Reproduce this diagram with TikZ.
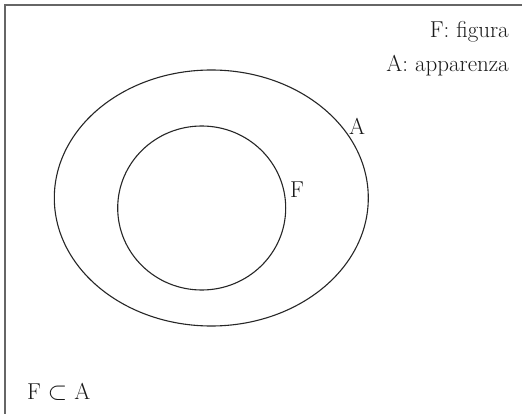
\documentclass[tikz,border=0pt]{standalone}
\usetikzlibrary{shapes.geometric}
\begin{document}
\begin{tikzpicture}[x=1pt,y=-1pt,
  frame/.style={draw=black!60,line width=1.5pt},
  setshape/.style={draw=black!85,line width=1.1pt,inner sep=0pt},
  lbl/.style={text=black!90,inner sep=0pt,font=\fontsize{23}{27}\selectfont}]
\clip (0,0) rectangle (522,414);
\fill[white] (0,0) rectangle (522,414);
\draw[frame] (5,5) rectangle (540,430);
\node[setshape,ellipse,minimum width=314pt,minimum height=256pt] (A) at (211.3,198) {};
\node[setshape,ellipse,minimum width=168pt,minimum height=164pt] (F) at (201.7,208) {};
\node[lbl,anchor=base west] (Alab) at (349,135) {A};
\node[lbl,anchor=base west] (Flab) at (290,198) {F};
\node[lbl,anchor=base east] (leg1) at (509,38) {F: figura};
\node[lbl,anchor=base east] (leg2) at (509,72) {A: apparenza};
\node[lbl,anchor=base west] (rel) at (27,399) {F $\subset$ A};
\end{tikzpicture}
\end{document}
